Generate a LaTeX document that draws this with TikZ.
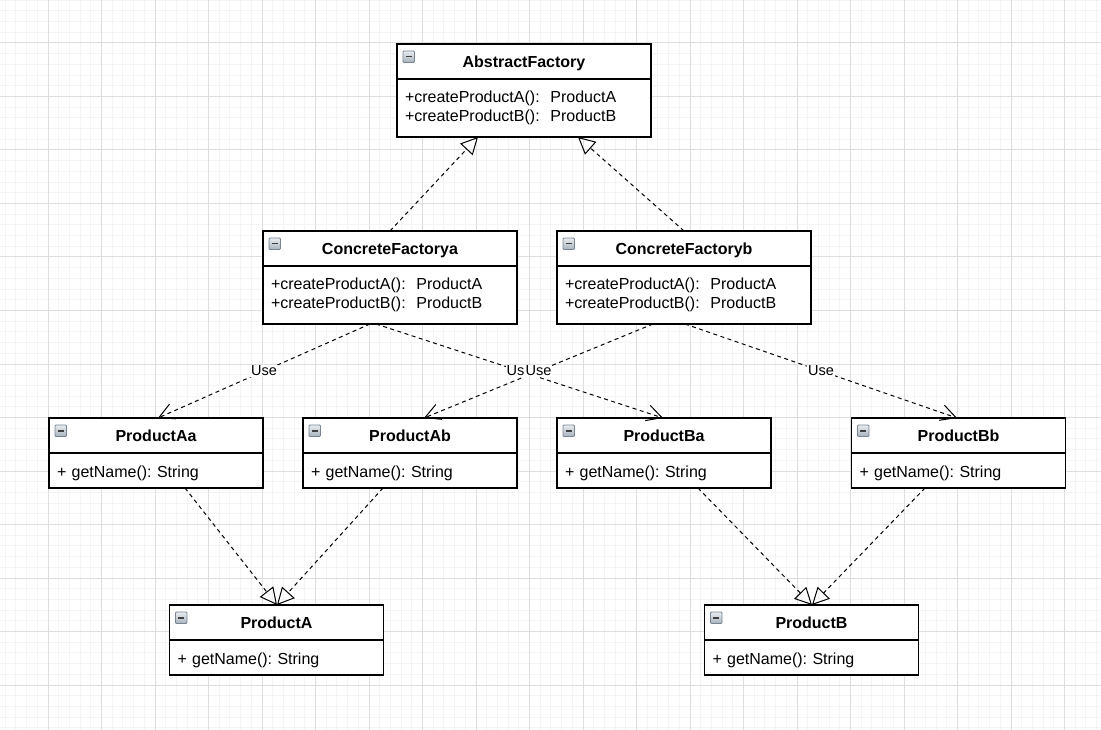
\documentclass[tikz,border=0pt]{standalone}
\usepackage{fontspec}
\setmainfont{Liberation Sans}
\usetikzlibrary{arrows.meta,positioning,calc}
\definecolor{gridminor}{RGB}{244,244,244}
\definecolor{gridmajor}{RGB}{222,222,222}
\definecolor{icontop}{RGB}{232,236,240}
\definecolor{iconbot}{RGB}{168,178,188}
\definecolor{iconline}{RGB}{120,132,146}
\frenchspacing

\tikzset{
  classhead/.style={draw,line width=1.3pt,fill=white,outer sep=0pt,inner sep=0pt,
    minimum height=35pt,text height=11.5pt,text depth=0pt,
    font=\fontsize{16}{19}\selectfont\bfseries},
  classbody/.style={draw,line width=1.3pt,fill=white,outer sep=0pt,inner xsep=8pt,
    inner ysep=0pt,align=left,font=\fontsize{16}{18.3}\selectfont},
  factory/.style={minimum width=254pt},
  factorybody/.style={classbody,text width=238pt,minimum height=58pt},
  product/.style={minimum width=214pt},
  productbody/.style={classbody,text width=198pt,minimum height=35pt,text height=14.5pt,text depth=0pt},
  iconbox/.style={draw=iconline,line width=0.8pt,top color=icontop,bottom color=iconbot,rounded corners=1pt},
  realize/.style={line width=1pt,dash pattern=on 4pt off 3.5pt,-{Triangle[open,length=17pt,width=17pt]}},
  uses/.style={line width=1pt,dash pattern=on 4pt off 3.5pt,-{Straight Barb[length=15pt,width=16pt]}},
  uselabel/.style={fill=white,inner sep=1pt,font=\fontsize{14.5}{16}\selectfont}
}

\begin{document}
\begin{tikzpicture}[x=1pt,y=-1pt]
\useasboundingbox[fill=white] (0,0) rectangle (1101,730);
% grid
\foreach \k in {0,...,102} \draw[gridminor,line width=1pt] (5.2+10.7*\k,0) -- (5.2+10.7*\k,730);
\foreach \k in {0,...,68} \draw[gridminor,line width=1pt] (0,0.2+10.7*\k) -- (1101,0.2+10.7*\k);
\foreach \k in {0,...,19} \draw[gridmajor,line width=1pt] (48+53.5*\k,0) -- (48+53.5*\k,730);
\foreach \k in {0,...,12} \draw[gridmajor,line width=1pt] (0,43+53.5*\k) -- (1101,43+53.5*\k);

% factories
\node[classhead,factory] (af) at (524,61.5) {AbstractFactory};
\node[factorybody,below=0pt of af] (afb) {+createProductA():~~ProductA\\+createProductB():~~ProductB};
\node[classhead,factory] (cfa) at (390,248.5) {ConcreteFactorya};
\node[factorybody,below=0pt of cfa] (cfab) {+createProductA():~~ProductA\\+createProductB():~~ProductB};
\node[classhead,factory] (cfb) at (684,248.5) {ConcreteFactoryb};
\node[factorybody,below=0pt of cfb] (cfbb) {+createProductA():~~ProductA\\+createProductB():~~ProductB};

% products
\node[classhead,product] (paa) at (156,435.5) {ProductAa};
\node[productbody,below=0pt of paa] (paab) {+ getName(): String};
\node[classhead,product] (pab) at (410,435.5) {ProductAb};
\node[productbody,below=0pt of pab] (pabb) {+ getName(): String};
\node[classhead,product] (pba) at (664,435.5) {ProductBa};
\node[productbody,below=0pt of pba] (pbab) {+ getName(): String};
\node[classhead,product] (pbb) at (958.5,435.5) {ProductBb};
\node[productbody,below=0pt of pbb] (pbbb) {+ getName(): String};
\node[classhead,product] (pa) at (276.5,622.5) {ProductA};
\node[productbody,below=0pt of pa] (pab2) {+ getName(): String};
\node[classhead,product] (pb) at (811.5,622.5) {ProductB};
\node[productbody,below=0pt of pb] (pbb2) {+ getName(): String};

% collapse icons
\foreach \n in {af,cfa,cfb,paa,pab,pba,pbb,pa,pb} {
  \draw[iconbox] ([shift={(6,7)}]\n.north west) rectangle ++(11.5,11.5);
  \draw[line width=1.5pt,black!75] ([shift={(8.8,12.75)}]\n.north west) -- ++(6,0);
}

% realizations
\draw[realize] (cfa.north) -- ($(afb.south)+(-46,0)$);
\draw[realize] (cfb.north) -- ($(afb.south)+(54,0)$);
\draw[realize] ($(paab.south)+(29,0)$) -- ($(pa.north)+(0.5,0)$);
\draw[realize] ($(pabb.south)+(-27,0)$) -- ($(pa.north)+(0.5,0)$);
\draw[realize] ($(pbab.south)+(34,0)$) -- ($(pb.north)+(0.5,0)$);
\draw[realize] ($(pbbb.south)+(-33.5,0)$) -- ($(pb.north)+(0.5,0)$);

% dependencies
\draw[uses] ($(cfab.south)+(-20,0)$) -- coordinate (u1) ($(paa.north)+(2,0)$);
\draw[uses] ($(cfab.south)+(-14,0)$) -- coordinate (u2) ($(pba.north)+(-1,0)$);
\draw[uses] ($(cfbb.south)+(-31,0)$) -- coordinate (u3) ($(pab.north)+(14,0)$);
\draw[uses] ($(cfbb.south)+(1,0)$) -- coordinate (u4) ($(pbb.north)+(-1.5,0)$);
\foreach \m in {u1,u2,u3,u4} \node[uselabel] (l\m) at (\m) {Use};
\end{tikzpicture}
\end{document}
